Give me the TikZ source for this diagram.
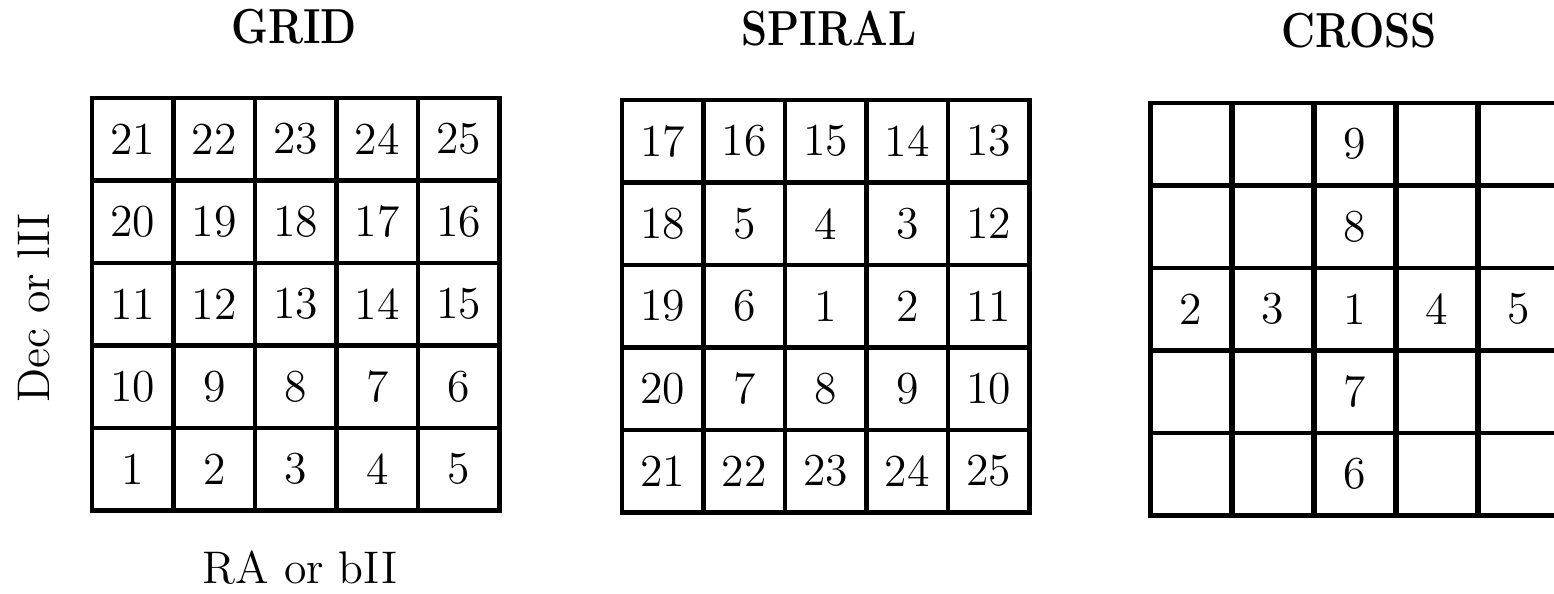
\documentclass[tikz,border=0pt]{standalone}
\usepackage{tikz}
\usetikzlibrary{positioning}

\begin{document}
\begin{tikzpicture}[
  x=0.01cm, y=-0.01cm,
  cell/.style={draw=black, line width=1.4pt, minimum width=8.15mm, minimum height=8.25mm,
    inner sep=0pt, font=\fontsize{13}{15}\selectfont},
  title/.style={font=\fontsize{14}{16}\selectfont\bfseries, xscale=0.85},
  axis/.style={font=\fontsize{13}{15}\selectfont}
]
  \useasboundingbox (0,0) rectangle (1554,594);
  \clip (0,0) rectangle (1554,594);

  % titles
  \node[title] (gridtitle) at (294,27) {GRID};
  \node[title] (spiraltitle) at (829,29) {SPIRAL};
  \node[title] (crosstitle) at (1359,31) {CROSS};

  % GRID
  \foreach \row [count=\r from 0] in {{21,22,23,24,25},{20,19,18,17,16},{11,12,13,14,15},{10,9,8,7,6},{1,2,3,4,5}}
    \foreach \n [count=\c from 0] in \row
      \node[cell] (grid-\r-\c) at ({92+(\c+0.5)*81.5},{98+(\r+0.5)*82.5}) {\n};

  % SPIRAL
  \foreach \row [count=\r from 0] in {{17,16,15,14,13},{18,5,4,3,12},{19,6,1,2,11},{20,7,8,9,10},{21,22,23,24,25}}
    \foreach \n [count=\c from 0] in \row
      \node[cell] (spiral-\r-\c) at ({622+(\c+0.5)*81.5},{100+(\r+0.5)*82.5}) {\n};

  % CROSS
  \foreach \row [count=\r from 0] in {{{},{},9,{},{}},{{},{},8,{},{}},{2,3,1,4,5},{{},{},7,{},{}},{{},{},6,{},{}}}
    \foreach \n [count=\c from 0] in \row
      \node[cell] (cross-\r-\c) at ({1150+(\c+0.5)*82},{103+(\r+0.5)*82.5}) {\n};

  % axis labels
  \node[axis, rotate=90] (declabel) at (34,308) {Dec or lII};
  \node[axis] (ralabel) at (300,568) {RA or bII};
\end{tikzpicture}
\end{document}
